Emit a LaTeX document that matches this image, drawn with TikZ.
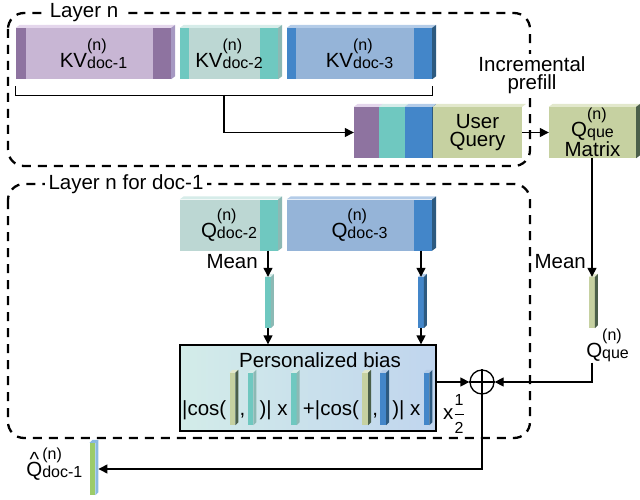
\documentclass[tikz,border=0pt]{standalone}
\usepackage{fontspec}
\setmainfont{Liberation Sans}
\usepackage{amsmath}
\usepackage{tikz}
\usetikzlibrary{arrows.meta, positioning}
\DeclareMathSizes{20.5}{20.5}{16}{12}
\definecolor{kvpurple}{RGB}{200,182,212}
\definecolor{bandpurple}{RGB}{142,115,160}
\definecolor{toppurple}{RGB}{228,214,236}
\definecolor{sidepurple}{RGB}{166,152,194}
\definecolor{kvteal}{RGB}{188,215,211}
\definecolor{bandteal}{RGB}{111,200,192}
\definecolor{topteal}{RGB}{214,236,233}
\definecolor{sideteal}{RGB}{140,185,180}
\definecolor{kvblue}{RGB}{149,180,216}
\definecolor{bandblue}{RGB}{67,134,201}
\definecolor{topblue}{RGB}{180,204,232}
\definecolor{sideblue}{RGB}{45,90,128}
\definecolor{queolive}{RGB}{198,209,161}
\definecolor{topolive}{RGB}{226,232,204}
\definecolor{sideolive}{RGB}{75,95,74}
\definecolor{hatgreen}{RGB}{156,203,106}
\definecolor{hatblue}{RGB}{138,184,224}
\definecolor{biasleft}{RGB}{211,236,233}
\definecolor{biasright}{RGB}{192,213,238}
\newcommand{\fs}{\fontsize{20.5}{22}\selectfont}
\newcommand{\scr}{\fontsize{16}{17}\selectfont}
\newcommand{\supsub}[3]{#1\rlap{\raisebox{17pt}{\scr(#2)}}\raisebox{-1pt}{\scr #3}}
\newcommand{\hatQ}{\rlap{\hspace{3.2pt}\raisebox{10pt}{\textasciicircum}}Q}
\newcommand{\topface}[3]{\fill[#2] (#1.north west) -- ++(#3,-3) -- ([shift={(#3,-3)}]#1.north east) -- (#1.north east) -- cycle;}
\newcommand{\sideface}[3]{\fill[#2] (#1.north east) -- ++(#3,-3) -- ([shift={(#3,-3)}]#1.south east) -- (#1.south east) -- cycle;}
\tikzset{
  kvbox/.style={rectangle,minimum height=51,inner sep=0,font=\fs},
  bands/.style n args={4}{path picture={
    \fill[#1] (path picture bounding box.north west) rectangle ([xshift=#2]path picture bounding box.south west);
    \fill[#3] (path picture bounding box.north east) rectangle ([xshift=-#4]path picture bounding box.south east);}},
  bar/.style={rectangle,minimum width=5.5,minimum height=51,inner sep=0},
  fbar/.style={rectangle,minimum width=5.5,minimum height=52,inner sep=0},
  lbl/.style={font=\fs,inner sep=0},
  fpart/.style={font=\fs,inner sep=0,text height=15pt,text depth=5pt},
  tag/.style={fill=white,font=\fs,inner sep=4pt},
  layer/.style={line width=2.3pt,dash pattern=on 9pt off 7pt,rounded corners=16},
  arr/.style={-{Triangle[length=9pt,width=9pt]},line width=1.3pt},
  line/.style={line width=1.3pt}
}

\begin{document}
\begin{tikzpicture}[x=1pt,y=-1pt]
  \useasboundingbox (0,0) rectangle (640,500);

  % Layer frames
  \draw[layer] (8,13) rectangle (530,166);
  \node[tag] (lay1) at (84,13) {Layer n};
  \draw[layer] (8,184) rectangle (530,438);
  \node[tag] (lay2) at (126,184) {Layer n for doc-1};

  % KV caches
  \node[kvbox, fill=kvpurple, minimum width=155, bands={bandpurple}{10pt}{bandpurple}{18pt}] (kv1) at (93.5,53.5) {\supsub{KV}{n}{doc-1}};
  \topface{kv1}{toppurple}{4} \sideface{kv1}{sidepurple}{4}
  \node[kvbox, fill=kvteal, minimum width=98, bands={bandteal}{9pt}{bandteal}{18pt}] (kv2) at (229,53.5) {\supsub{KV}{n}{doc-2}};
  \topface{kv2}{topteal}{4} \sideface{kv2}{sideteal}{4}
  \node[kvbox, fill=kvblue, minimum width=145, bands={bandblue}{9pt}{bandblue}{18pt}] (kv3) at (359.5,53.5) {\supsub{KV}{n}{doc-3}};
  \topface{kv3}{topblue}{4} \sideface{kv3}{sideblue}{4}

  % Concatenated cache + query
  \node[kvbox, fill=bandpurple, minimum width=25] (cat1) at (366.5,132.5) {};
  \node[kvbox, fill=bandteal, minimum width=26] (cat2) at (392,132.5) {};
  \node[kvbox, fill=bandblue, minimum width=27] (cat3) at (418.5,132.5) {};
  \sideface{cat3}{sideblue}{4}
  \node[kvbox, fill=queolive, minimum width=89, align=center] (uq) at (477.5,132.5) {User\\[-4pt]Query};
  \topface{cat1}{toppurple}{4} \topface{cat2}{topteal}{4} \topface{cat3}{topblue}{4} \topface{uq}{topolive}{4}
  \node[kvbox, fill=queolive, minimum width=87, align=center] (qmat) at (592.5,132.5) {\supsub{Q}{n}{que}\\[-2pt]Matrix};
  \topface{qmat}{topolive}{4} \sideface{qmat}{sideolive}{4}
  \node[tag, align=center, inner sep=2pt] (incr) at (532,75) {Incremental\\[-4pt]prefill};

  \draw[line] ([yshift=-7pt]kv1.south west) -- ([yshift=-16pt]kv1.south west) -- ([yshift=-16pt]kv3.south east) -- ([yshift=-7pt]kv3.south east);
  \coordinate (brk) at (224,95);
  \draw[arr] (brk) |- (cat1.west);
  \draw[arr] (uq.east) -- (qmat.west);

  % Queries of doc-2 and doc-3
  \node[kvbox, fill=kvteal, minimum width=98, bands={kvteal}{0pt}{bandteal}{18pt}] (qd2) at (229,225) {\supsub{Q}{n}{doc-2}};
  \topface{qd2}{topteal}{4} \sideface{qd2}{sideteal}{4}
  \node[kvbox, fill=kvblue, minimum width=145, bands={kvblue}{0pt}{bandblue}{18pt}] (qd3) at (359.5,225) {\supsub{Q}{n}{doc-3}};
  \topface{qd3}{topblue}{4} \sideface{qd3}{sideblue}{4}

  % Mean vectors
  \node[bar, fill=bandteal] (mb2) at (268,302.5) {};
  \topface{mb2}{topteal}{3} \sideface{mb2}{sideteal}{3}
  \node[bar, fill=bandblue] (mb3) at (421,302.5) {};
  \topface{mb3}{topblue}{3} \sideface{mb3}{sideblue}{3}
  \node[bar, fill=queolive] (qqbar) at (592,302.5) {};
  \topface{qqbar}{topolive}{3} \sideface{qqbar}{sideolive}{3}
  \draw[arr] (mb2.north |- qd2.south) -- (mb2.north);
  \draw[arr] (mb3.north |- qd3.south) -- (mb3.north);
  \draw[arr] (qqbar.north |- qmat.south) -- (qqbar.north);
  \node[lbl, anchor=east] (mean1) at ([xshift=-10pt,yshift=15pt]mb2.north) {Mean};
  \node[lbl, anchor=east] (mean2) at ([xshift=-6pt,yshift=15pt]qqbar.north) {Mean};
  \node[lbl, anchor=north west] (qqlab) at ([xshift=-3pt,yshift=-1pt]qqbar.south west) {\supsub{Q}{n}{que}};

  % Personalized bias
  \node[draw, line width=1.3pt, left color=biasleft, right color=biasright, minimum width=256, minimum height=86, inner sep=0] (pb) at (308,388) {};
  \node[lbl] (pbtitle) at ([xshift=12pt,yshift=-16pt]pb.north) {Personalized bias};
  \node[fpart, anchor=base west] (f1) at (182,415) {|cos(};
  \node[fbar, fill=queolive, right=3pt of f1, yshift=11pt] (b1) {};
  \node[fpart, right=4pt of b1, yshift=-11pt] (f2) {,};
  \node[fbar, fill=bandteal, right=2pt of f2, yshift=11pt] (b2) {};
  \node[fpart, right=6pt of b2, yshift=-11pt] (f3) {)| x};
  \node[fbar, fill=bandteal, right=3pt of f3, yshift=11pt] (b3) {};
  \node[fpart, right=6pt of b3, yshift=-11pt] (f4) {+|cos(};
  \node[fbar, fill=queolive, right=3pt of f4, yshift=11pt] (b4) {};
  \node[fpart, right=4pt of b4, yshift=-11pt] (f5) {,};
  \node[fbar, fill=bandblue, right=2pt of f5, yshift=11pt] (b5) {};
  \node[fpart, right=6pt of b5, yshift=-11pt] (f6) {)| x};
  \node[fbar, fill=bandblue, right=3pt of f6, yshift=11pt] (b6) {};
  \topface{b1}{topolive}{3} \sideface{b1}{sideolive}{3}
  \topface{b2}{topteal}{3} \sideface{b2}{sideteal}{3}
  \topface{b3}{topteal}{3} \sideface{b3}{sideteal}{3}
  \topface{b4}{topolive}{3} \sideface{b4}{sideolive}{3}
  \topface{b5}{topblue}{3} \sideface{b5}{sideblue}{3}
  \topface{b6}{topblue}{3} \sideface{b6}{sideblue}{3}
  \draw[arr] (mb2.south) -- (mb2.south |- pb.north);
  \draw[arr] (mb3.south) -- (mb3.south |- pb.north);

  % Sum
  \node[circle, draw, line width=1.3pt, minimum size=24, inner sep=0] (sum) at (482,382) {};
  \draw[line] (sum.north) -- (sum.south) (sum.west) -- (sum.east);
  \draw[arr] (pb.east |- sum.west) -- (sum.west);
  \draw[arr] (qqbar.south |- qqlab.south) |- (sum.east);
  \node[lbl] (half) at ([xshift=-28pt,yshift=-32pt]sum.center) {x$\dfrac{\text{\scr 1}}{\text{\scr 2}}$};

  % Output
  \node[fbar, fill=hatgreen] (qhbar) at (92.5,469) {};
  \topface{qhbar}{hatblue}{3} \sideface{qhbar}{hatblue}{3}
  \node[lbl, left=7pt of qhbar, yshift=5pt] (qhlab) {\supsub{\hatQ}{n}{doc-1}};
  \draw[arr] (sum.south) |- ([xshift=3pt]qhbar.east);
\end{tikzpicture}
\end{document}
